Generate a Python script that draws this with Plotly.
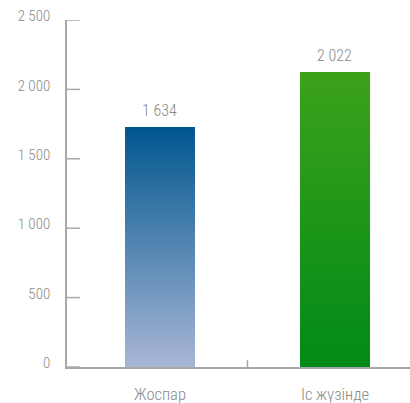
import plotly.graph_objects as go

# ---- data ----
categories = ["Жоспар", "Іс жүзінде"]
value_labels = ["1 634", "2 022"]          # printed values
bar_heights = [1729, 2123]                 # heights as drawn in the picture (axis units)
y_tickvals = [0, 500, 1000, 1500, 2000, 2500]
y_ticktext = ["0", "500", "1 000", "1 500", "2 000", "2 500"]

# gradient colours (bottom, top) per bar
grad_bottom = [(168, 182, 214), (0, 138, 23)]
grad_top = [(0, 86, 142), (60, 162, 26)]

FONT = "Roboto Condensed, DejaVu Sans Condensed, Roboto, sans-serif"
GREY = "#8a8a8a"
AXIS = "#a8a8a8"

WIDTH, HEIGHT = 410, 403
MARGIN = dict(l=67, r=0, t=20, b=36)
TICK_PX = 13

x = list(range(len(categories)))
N = 70

def mix(c0, c1, t):
    return "rgb(%d,%d,%d)" % tuple(round(a + (b - a) * t) for a, b in zip(c0, c1))

fig = go.Figure()
for i in range(N):
    frac_top = (N - i) / N
    t = (N - i - 0.5) / N
    fig.add_trace(go.Bar(
        x=x,
        y=[h * frac_top for h in bar_heights],
        width=0.4,
        marker=dict(color=[mix(grad_bottom[k], grad_top[k], t) for k in range(len(x))],
                    line=dict(width=0)),
        hoverinfo="skip",
        showlegend=False,
    ))

for k in range(len(x)):
    fig.add_annotation(x=x[k], y=bar_heights[k], text=value_labels[k],
                       showarrow=False, yanchor="bottom", yshift=5,
                       font=dict(family=FONT, size=16, color=GREY, weight=300))

# y-axis tick marks (pointing into the plot)
plot_w = WIDTH - MARGIN["l"] - MARGIN["r"]
for v in y_tickvals:
    fig.add_shape(type="line", xref="paper", yref="y",
                  x0=0, x1=TICK_PX / plot_w, y0=v, y1=v,
                  line=dict(color=AXIS, width=1.5), layer="above")

# small divider tick between categories
fig.add_shape(type="line", xref="x", yref="y",
              x0=(x[0] + x[1]) / 2, x1=(x[0] + x[1]) / 2, y0=0, y1=50,
              line=dict(color=AXIS, width=1.5), layer="above")

fig.update_layout(
    width=WIDTH, height=HEIGHT,
    margin=dict(**MARGIN, autoexpand=False),
    barmode="overlay",
    bargap=0,
    paper_bgcolor="white",
    plot_bgcolor="white",
    showlegend=False,
    xaxis=dict(
        range=[-0.531, 1.4286],
        tickvals=x, ticktext=categories,
        showgrid=False, zeroline=False,
        showline=True, linecolor=AXIS, linewidth=1.5,
        ticks="", ticklabelstandoff=11, automargin=False,
        tickfont=dict(family=FONT, size=16.5, color=GREY, weight=300),
        fixedrange=True,
    ),
    yaxis=dict(
        range=[0, 2500],
        tickvals=y_tickvals, ticktext=y_ticktext,
        showgrid=False, zeroline=False,
        showline=True, linecolor=AXIS, linewidth=1.5,
        ticks="", ticklabelstandoff=12, ticklabelshift=-4, automargin=False,
        tickfont=dict(family=FONT, size=15, color=GREY, weight=300),
        fixedrange=True,
    ),
)

fig.write_html("out.html", config={"displayModeBar": False},
               post_script="document.body.style.margin='0';document.body.style.overflow='hidden';")
